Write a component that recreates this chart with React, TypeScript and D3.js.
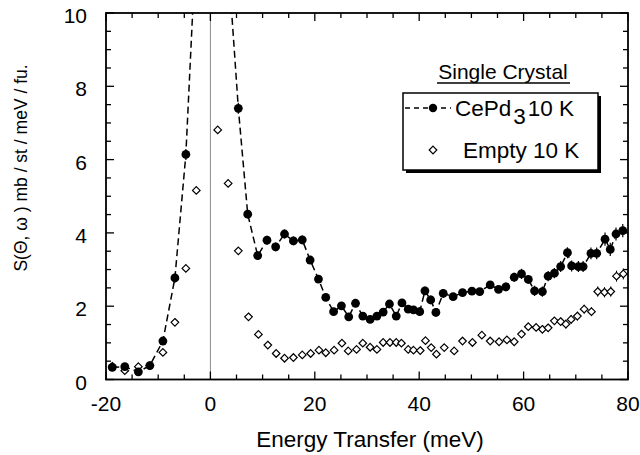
import React from 'react';
import * as d3 from 'd3';

// [energy (meV), S, error]
const cePd3: [number, number, number][] = [
  [-18.8, 0.33, 0.05], [-16.4, 0.35, 0.05], [-13.8, 0.21, 0.05], [-11.6, 0.38, 0.05],
  [-9.1, 1.05, 0.08], [-6.8, 2.77, 0.12], [-4.7, 6.14, 0.15], [-2.7, 12.1, 0.2],
  [3.4, 11.4, 0.2], [5.35, 7.4, 0.15], [7.15, 4.51, 0.12], [9.06, 3.38, 0.12],
  [10.84, 3.8, 0.12], [12.5, 3.62, 0.12], [14.2, 3.97, 0.12], [15.9, 3.78, 0.12],
  [17.6, 3.81, 0.12], [19.1, 3.26, 0.1], [20.7, 2.74, 0.1], [22.1, 2.24, 0.1],
  [23.6, 1.85, 0.1], [25.1, 2.01, 0.1], [26.5, 1.71, 0.1], [27.8, 2.08, 0.1],
  [29.2, 1.73, 0.1], [30.6, 1.64, 0.1], [31.9, 1.73, 0.1], [33.1, 1.84, 0.1],
  [34.3, 2.06, 0.1], [35.6, 1.73, 0.1], [36.7, 2.09, 0.1], [37.9, 1.92, 0.1],
  [38.9, 1.9, 0.1], [40.1, 1.85, 0.12], [41.1, 2.42, 0.12], [42.2, 2.17, 0.12],
  [43.2, 1.83, 0.12], [44.6, 2.35, 0.12], [46.5, 2.26, 0.1], [48.3, 2.37, 0.1],
  [50.1, 2.41, 0.1], [51.6, 2.4, 0.1], [53.6, 2.58, 0.1], [55.2, 2.46, 0.1],
  [56.6, 2.53, 0.12], [58.2, 2.79, 0.12], [59.6, 2.88, 0.14], [60.9, 2.73, 0.12],
  [62.1, 2.42, 0.14], [63.6, 2.4, 0.14], [64.7, 2.82, 0.14], [65.9, 2.9, 0.14],
  [67.1, 3.08, 0.15], [68.4, 3.46, 0.15], [69.2, 3.1, 0.15], [70.5, 3.08, 0.15],
  [71.4, 3.08, 0.15], [72.9, 3.44, 0.16], [74.0, 3.44, 0.16], [75.6, 3.83, 0.18],
  [76.6, 3.55, 0.18], [77.7, 3.97, 0.18], [79.0, 4.06, 0.18],
];

const empty: [number, number, number][] = [
  [-18.8, 0.36, 0.04], [-16.4, 0.24, 0.04], [-13.8, 0.35, 0.04], [-11.6, 0.38, 0.04],
  [-9.1, 0.74, 0.05], [-6.8, 1.56, 0.06], [-4.7, 3.03, 0.08], [-2.7, 5.16, 0.1],
  [1.4, 6.81, 0.1], [3.4, 5.35, 0.1], [5.35, 3.51, 0.08], [7.3, 1.71, 0.05],
  [9.2, 1.23, 0.04], [11.0, 0.94, 0.04], [12.6, 0.71, 0.04], [14.2, 0.58, 0.04],
  [15.9, 0.6, 0.04], [17.6, 0.67, 0.04], [19.2, 0.71, 0.04], [20.8, 0.8, 0.04],
  [22.1, 0.73, 0.04], [23.7, 0.8, 0.04], [25.2, 0.99, 0.05], [26.4, 0.78, 0.04],
  [28.0, 0.82, 0.04], [29.2, 0.99, 0.05], [30.6, 0.88, 0.04], [31.9, 0.82, 0.04],
  [33.1, 1.01, 0.05], [34.4, 1.01, 0.05], [35.6, 1.01, 0.05], [36.6, 0.99, 0.05],
  [37.9, 0.82, 0.05], [38.9, 0.8, 0.05], [40.2, 0.79, 0.05], [41.2, 1.06, 0.06],
  [42.3, 0.87, 0.06], [43.3, 0.69, 0.06], [44.8, 0.87, 0.06], [46.7, 0.78, 0.06],
  [48.3, 1.05, 0.06], [50.2, 1.01, 0.06], [52.0, 1.21, 0.07], [53.6, 1.05, 0.07],
  [55.3, 1.03, 0.07], [56.8, 1.08, 0.07], [58.2, 1.03, 0.07], [59.6, 1.24, 0.08],
  [60.9, 1.44, 0.1], [62.4, 1.42, 0.1], [63.6, 1.37, 0.1], [64.7, 1.41, 0.1],
  [65.9, 1.6, 0.1], [67.1, 1.58, 0.1], [68.1, 1.51, 0.12], [69.1, 1.64, 0.12],
  [70.3, 1.73, 0.12], [71.6, 1.92, 0.12], [73.0, 1.85, 0.12], [74.2, 2.4, 0.14],
  [75.5, 2.38, 0.14], [76.7, 2.4, 0.14], [77.8, 2.82, 0.15], [79.1, 2.88, 0.15],
];

const xTicks = [-20, 0, 20, 40, 60, 80];
const yTicks = [0, 2, 4, 6, 8, 10];
const xTitle = 'Energy Transfer (meV)';
const yTitle = 'S(\u0398, \u03C9 ) mb / st / meV / fu.';
const legendTitle = 'Single Crystal';

const FONT = '"Liberation Sans", Arial, Helvetica, sans-serif';

export default function App() {
  const W = 640, H = 455;
  const L = 106, R = 628, T = 13, B = 379.5;
  const x = d3.scaleLinear().domain([-20, 80]).range([L, R]);
  const y = d3.scaleLinear().domain([0, 10]).range([B, T]);
  const xMinor = d3.range(-20, 80.01, 5);
  const yMinor = d3.range(0, 10.01, 0.5);
  const line = d3.line<[number, number, number]>().x(d => x(d[0])).y(d => y(d[1]));
  const dr = 3.8;
  const diamond = (cx: number, cy: number) =>
    `M${cx},${cy - dr}L${cx + dr},${cy}L${cx},${cy + dr}L${cx - dr},${cy}Z`;

  return (
    <svg width={W} height={H} style={{ position: 'absolute', left: 0, top: 0, background: '#fff' }}
      fontFamily={FONT}>
      <defs>
        <clipPath id="plot"><rect x={L} y={T} width={R - L} height={B - T} /></clipPath>
      </defs>
      <rect x={0} y={0} width={W} height={H} fill="#fff" />
      {/* zero line */}
      <line x1={x(0)} x2={x(0)} y1={T} y2={B} stroke="#8a8a8a" strokeWidth={1} />
      <g clipPath="url(#plot)">
        <path d={line(cePd3) || ''} fill="none" stroke="#000" strokeWidth={1.5} strokeDasharray="7,4" />
        {empty.map((d, i) => (
          <line key={'ee' + i} x1={x(d[0])} x2={x(d[0])} y1={y(d[1] - d[2])} y2={y(d[1] + d[2])}
            stroke="#000" strokeWidth={1} />
        ))}
        {empty.map((d, i) => (
          <path key={'e' + i} d={diamond(x(d[0]), y(d[1]))} fill="#fff" stroke="#000" strokeWidth={1.2} />
        ))}
        {cePd3.map((d, i) => (
          <line key={'ce' + i} x1={x(d[0])} x2={x(d[0])} y1={y(d[1] - d[2])} y2={y(d[1] + d[2])}
            stroke="#000" strokeWidth={1.2} />
        ))}
        {cePd3.map((d, i) => (
          <circle key={'c' + i} cx={x(d[0])} cy={y(d[1])} r={4.4} fill="#000" />
        ))}
      </g>
      {/* frame */}
      <rect x={L} y={T} width={R - L} height={B - T} fill="none" stroke="#000" strokeWidth={1.8} />
      {/* ticks */}
      {xMinor.map((v, i) => {
        const major = xTicks.includes(v);
        const len = major ? 8 : 5;
        return (
          <g key={'xt' + i}>
            <line x1={x(v)} x2={x(v)} y1={B} y2={B - len} stroke="#000" strokeWidth={1.3} />
            <line x1={x(v)} x2={x(v)} y1={T} y2={T + len} stroke="#000" strokeWidth={1.3} />
          </g>
        );
      })}
      {yMinor.map((v, i) => {
        const major = yTicks.includes(v);
        const len = major ? 8 : 5;
        return (
          <g key={'yt' + i}>
            <line x1={L} x2={L + len} y1={y(v)} y2={y(v)} stroke="#000" strokeWidth={1.3} />
            <line x1={R} x2={R - len} y1={y(v)} y2={y(v)} stroke="#000" strokeWidth={1.3} />
          </g>
        );
      })}
      {xTicks.map((v, i) => (
        <text key={'xl' + i} x={x(v)} y={B + 31} textAnchor="middle" fontSize={21} fill="#000">{v}</text>
      ))}
      {yTicks.map((v, i) => (
        <text key={'yl' + i} x={L - 19} y={y(v) + 10} textAnchor="end" fontSize={21} fill="#000">{v}</text>
      ))}
      <text x={370} y={447} textAnchor="middle" fontSize={22.5} fill="#000">{xTitle}</text>
      <text transform={`translate(27,168) rotate(-90)`} textAnchor="middle" fontSize={17.5} fill="#000">{yTitle}</text>

      {/* legend */}
      <text x={503} y={79} textAnchor="middle" fontSize={21} fill="#000">{legendTitle}</text>
      <line x1={437} x2={570} y1={83} y2={83} stroke="#000" strokeWidth={1.3} />
      <rect x={406} y={96} width={195} height={77} fill="#000" />
      <rect x={403} y={93} width={195} height={77} fill="#fff" stroke="#000" strokeWidth={1.5} />
      <line x1={405} x2={451} y1={108} y2={108} stroke="#000" strokeWidth={1.4} strokeDasharray="5,4" />
      <circle cx={433} cy={108} r={4.2} fill="#000" />
      <text x={455} y={116} fontSize={22.5} fill="#000">CePd<tspan dx={2} dy={8}>3</tspan><tspan dx={2} dy={-8}>10 K</tspan></text>
      <path d={diamond(433, 150)} fill="#fff" stroke="#000" strokeWidth={1.2} />
      <text x={463} y={158} fontSize={22.5} fill="#000">Empty 10 K</text>
    </svg>
  );
}
